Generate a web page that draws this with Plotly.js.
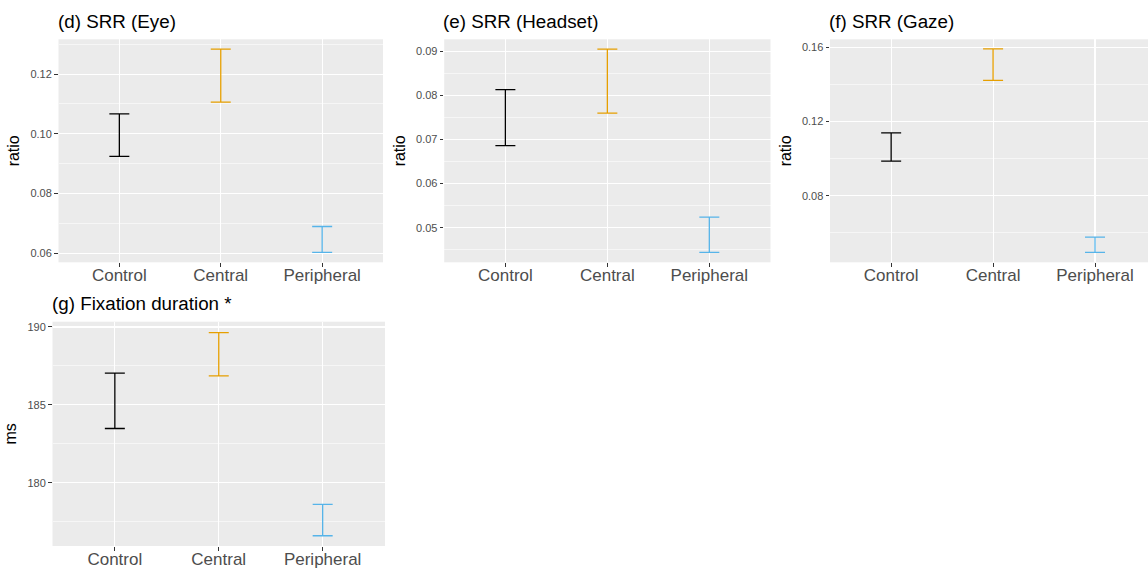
<!DOCTYPE html>
<html>
<head>
<meta charset="utf-8">
<script src="https://cdn.plot.ly/plotly-3.0.1.min.js"></script>
<style>html,body{margin:0;padding:0;background:#fff;}#chart{width:1148px;height:568px;}</style>
</head>
<body>
<div id="chart"></div>
<script>
// ---- data ----
const categories = ['Control', 'Central', 'Peripheral'];
const groupColors = ['#000000', '#E69F00', '#56B4E9'];

const eyeLow  = [0.0924, 0.1106, 0.0602];
const eyeHigh = [0.1067, 0.1284, 0.0689];

const headsetLow  = [0.0686, 0.0760, 0.0444];
const headsetHigh = [0.0813, 0.0905, 0.0524];

const gazeLow  = [0.0986, 0.1422, 0.0495];
const gazeHigh = [0.1139, 0.1591, 0.0577];

const fixationLow  = [183.48, 186.86, 176.59];
const fixationHigh = [187.04, 189.64, 178.61];

const panelTitles = ['(d) SRR (Eye)', '(e) SRR (Headset)', '(f) SRR (Gaze)', '(g) Fixation duration *'];
const panelUnits = ['ratio', 'ratio', 'ratio', 'ms'];

// ---- layout helpers ----
const W = 1148, H = 568;
const px = v => v / W;
const py = v => 1 - v / H;
const FONT = 'Liberation Sans, Arial, sans-serif';

const panels = [
  {low: eyeLow, high: eyeHigh, x0: 58.5, x1: 383, y0: 39.3, y1: 262.3, yr: [0.0569, 0.1317], dt: 0.02, mdt: 0.01, fmt: '.2f', xr: [-0.6, 2.6]},
  {low: headsetLow, high: headsetHigh, x0: 444.2, x1: 770.5, y0: 39.3, y1: 262.3, yr: [0.04214, 0.09273], dt: 0.01, mdt: 0.005, fmt: '.2f', xr: [-0.6, 2.6]},
  {low: gazeLow, high: gazeHigh, x0: 830, x1: 1148, y0: 39.3, y1: 262.3, yr: [0.0441, 0.1643], dt: 0.04, mdt: 0.02, fmt: '.2f', xr: [-0.6, 2.52]},
  {low: fixationLow, high: fixationHigh, x0: 52.5, x1: 385, y0: 321.7, y1: 546, yr: [175.93, 190.34], dt: 5, mdt: 2.5, fmt: 'd', xr: [-0.6, 2.6]}
];

const traces = [];
const layout = {
  width: W, height: H,
  margin: {l: 0, r: 0, t: 0, b: 0},
  paper_bgcolor: '#FFFFFF',
  plot_bgcolor: '#EBEBEB',
  showlegend: false,
  font: {family: FONT, color: '#4D4D4D'},
  annotations: []
};

panels.forEach((p, i) => {
  const n = i + 1;
  const xa = n === 1 ? 'x' : 'x' + n;
  const ya = n === 1 ? 'y' : 'y' + n;
  categories.forEach((c, k) => {
    traces.push({
      type: 'scatter', mode: 'markers',
      x: [c], y: [p.low[k]],
      xaxis: xa, yaxis: ya,
      marker: {size: 0.1, opacity: 0, color: groupColors[k]},
      error_y: {type: 'data', symmetric: false, array: [p.high[k] - p.low[k]], arrayminus: [0],
                color: groupColors[k], thickness: 1.3, width: 10},
      hoverinfo: 'skip'
    });
  });
  layout['xaxis' + (n === 1 ? '' : n)] = {
    domain: [px(p.x0), Math.min(1, px(p.x1))],
    anchor: ya,
    type: 'category',
    categoryorder: 'array', categoryarray: categories,
    range: p.xr,
    showgrid: true, gridcolor: '#FFFFFF', gridwidth: 1.1,
    zeroline: false, showline: false,
    ticks: 'outside', ticklen: 3.5, tickwidth: 1, tickcolor: '#333333',
    ticklabelstandoff: -6,
    tickfont: {size: 17, color: '#4D4D4D', family: FONT},
    fixedrange: true
  };
  layout['yaxis' + (n === 1 ? '' : n)] = {
    domain: [py(p.y1), py(p.y0)],
    anchor: xa,
    range: p.yr,
    tick0: 0, dtick: p.dt, tickformat: p.fmt,
    showgrid: true, gridcolor: '#FFFFFF', gridwidth: 1.1,
    minor: {dtick: p.mdt, tick0: 0, showgrid: true, gridcolor: '#FFFFFF', gridwidth: 0.55},
    zeroline: false, showline: false,
    ticks: 'outside', ticklen: 3.5, tickwidth: 1, tickcolor: '#333333',
    tickfont: {size: 11, color: '#4D4D4D', family: FONT},
    title: {text: panelUnits[i], standoff: 6, font: {size: 16, color: '#000000', family: FONT}},
    fixedrange: true
  };
  layout.annotations.push({
    text: panelTitles[i], xref: 'paper', yref: 'paper',
    x: px(p.x0), y: py(p.y0 - 17.8), xanchor: 'left', yanchor: 'middle',
    xshift: -3,
    showarrow: false,
    font: {size: 18.8, color: '#000000', family: FONT}
  });
});

Plotly.newPlot('chart', traces, layout, {displayModeBar: false, staticPlot: true});
</script>
</body>
</html>
